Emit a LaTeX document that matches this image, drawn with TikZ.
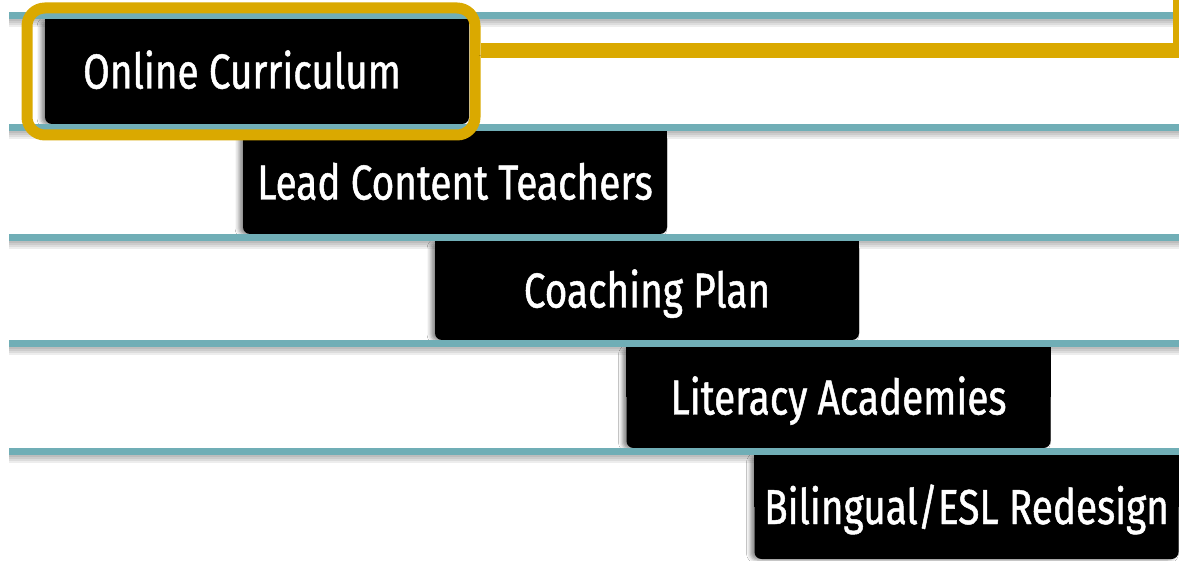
\documentclass[tikz,border=0pt]{standalone}
\usepackage{fontspec}
\setmainfont{Fira Sans}[FakeStretch=0.79,FakeBold=1]
\usetikzlibrary{backgrounds,shadows.blur}
\definecolor{rulecolor}{RGB}{112,174,182}
\definecolor{framecolor}{RGB}{218,169,0}
\begin{document}
\begin{tikzpicture}[x=1pt,y=-1pt,
	phase/.style={fill=black,text=white,rounded corners=7pt,inner sep=0pt,
		minimum width=424pt,font=\fontsize{49}{49}\selectfont,
		text height=34pt,text depth=0pt,
		blur shadow={shadow xshift=-4pt,shadow yshift=-1pt,shadow blur radius=4pt,shadow opacity=45}},
	rule/.style={fill=rulecolor},
	ruleshadow/.style={fill=black,opacity=.07},
	highlight/.style={draw=framecolor,line width=11pt,rounded corners=18pt,inner sep=0pt},
	calloutlink/.style={draw=framecolor,line width=15pt,
		preaction={draw=black,opacity=.18,transform canvas={shift={(-2pt,-5pt)}}}}]
\useasboundingbox (0,0) rectangle (1179,561);
% phases, one per band
\node[phase,minimum height=105pt] (oc) at (257,71.5) {Online Curriculum\hspace*{30pt}};
\node[phase,minimum height=103pt] (lct) at (455,182.5) {Lead Content Teachers};
\node[phase,minimum height=99pt] (cp) at (647,290.5) {Coaching Plan};
\node[phase,minimum height=101pt] (la) at (838.5,397.5) {Literacy Academies};
\node[phase,minimum height=104pt] (bed) at (966.5,507) {Bilingual/ESL Redesign};
% square top corners
\begin{scope}[on background layer]
	\fill[white] (0,0) rectangle (1179,561);
	\foreach \p in {oc,lct,cp,la,bed}
		\fill (\p.north west) rectangle (\p.east);
\end{scope}
% band rules
\foreach \y in {15.5,127.5,237.5,343.5,451.5} {
	\foreach \d in {2,4,6,8}
		\fill[ruleshadow] (9,\y+3.5) rectangle (1179,\y+3.5+\d);
	\fill[rule] (9,\y-3.5) rectangle (1179,\y+3.5);
}
% highlight and callout
\node[highlight,minimum width=448pt,minimum height=127pt] (ocframe) at (251,71.5) {};
\coordinate (calloutbend) at (1180,50.5);
\coordinate (callouttop) at (1180,-20);
\draw[calloutlink] (ocframe.east |- calloutbend) -- (calloutbend) -- (callouttop);
\end{tikzpicture}
\end{document}
